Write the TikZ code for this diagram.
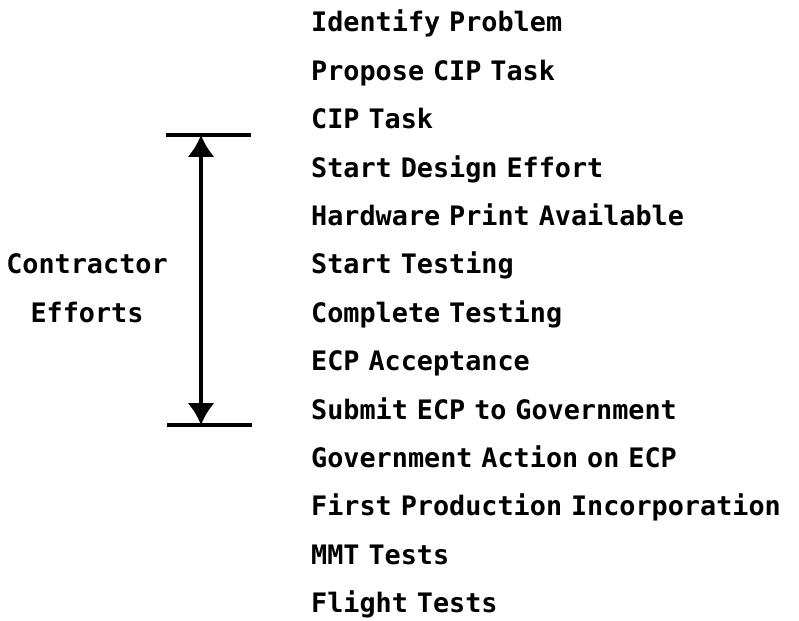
\documentclass[tikz,border=0pt]{standalone}
\usepackage{fontspec}
\usepackage{tikz}
\usetikzlibrary{arrows.meta,positioning,calc}
\newfontfamily\evtfont{DejaVu Sans Mono}
\tikzset{
  evt/.style={
    font=\evtfont\bfseries\fontsize{26.8}{30}\selectfont,
    inner sep=0pt, text width=480pt, align=left,
    text height=19pt, text depth=6pt
  },
  lbl/.style={font=\evtfont\bfseries\fontsize{26.8}{30}\selectfont, inner sep=0pt},
  bar/.style={draw=black, line width=4pt},
  arr/.style={{Latex[length=22pt,width=27pt]}-{Latex[length=22pt,width=27pt]},
    draw=black, line width=4pt}
}
\begin{document}
\begin{tikzpicture}[x=1pt, y=1pt, node distance=23pt]
  \useasboundingbox (0,0) rectangle (799,620);
  % milestone list
  \node[evt, anchor=base west] (ident) at (311,588) {Identify Problem};
  \node[evt, below=of ident] (propose) {Propose CIP Task};
  \node[evt, below=of propose] (cip) {CIP Task};
  \node[evt, below=of cip] (design) {Start Design Effort};
  \node[evt, below=of design] (hwprint) {Hardware Print Available};
  \node[evt, below=of hwprint] (starttest) {Start Testing};
  \node[evt, below=of starttest] (comptest) {Complete Testing};
  \node[evt, below=of comptest] (ecpacc) {ECP Acceptance};
  \node[evt, below=of ecpacc] (submit) {Submit ECP to Government};
  \node[evt, below=of submit] (govact) {Government Action on ECP};
  \node[evt, below=of govact] (firstprod) {First Production Incorporation};
  \node[evt, below=of firstprod] (mmt) {MMT Tests};
  \node[evt, below=of mmt] (flight) {Flight Tests};
  % contractor span
  \node[lbl, anchor=base] (contr) at (87,0 |- starttest.base) {Contractor};
  \node[lbl, anchor=base] (effort) at (87,0 |- comptest.base) {Efforts};
  \path (cip.base) ++(0,-6) coordinate (topy);
  \path (submit.base) ++(0,-6) coordinate (boty);
  \coordinate (topl) at (topy -| 166,0);
  \coordinate (topr) at (topy -| 251,0);
  \coordinate (topm) at (topy -| 201,0);
  \coordinate (botl) at (boty -| 167,0);
  \coordinate (botr) at (boty -| 252,0);
  \coordinate (botm) at (boty -| 201,0);
  \draw[bar] (topl) -- (topr);
  \draw[bar] (botl) -- (botr);
  \draw[arr] (topm) -- (botm);
\end{tikzpicture}
\end{document}
